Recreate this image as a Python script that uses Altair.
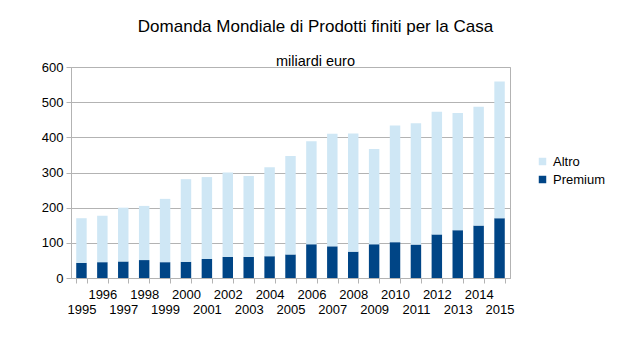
import altair as alt
import pandas as pd

years = [str(y) for y in range(1995, 2016)]
totals = [170, 177, 200, 205, 225, 281, 287, 300, 290, 315, 347, 389, 410, 411, 367, 434, 440, 473, 469, 487, 559]
premium = [43, 45, 47, 51, 45, 46, 54, 60, 60, 62, 67, 96, 90, 75, 96, 102, 95, 124, 136, 149, 170]
altro = [t - p for t, p in zip(totals, premium)]

series = ["Altro", "Premium"]
colors = ["#cfe7f5", "#004586"]

rows = []
for y, p, a in zip(years, premium, altro):
    rows.append({"Anno": y, "Serie": "Premium", "Valore": p, "ord": 0})
    rows.append({"Anno": y, "Serie": "Altro", "Valore": a, "ord": 1})
df = pd.DataFrame(rows)

FONT = "Liberation Sans"

chart = alt.Chart(df).mark_bar().encode(
    x=alt.X("Anno:O", title=None,
            scale=alt.Scale(paddingInner=0.5, paddingOuter=0.25),
            axis=alt.Axis(labelAngle=0, tickBand="extent",
                          labelExpr="toNumber(datum.value) % 2 == 0 ? [datum.label, ''] : ['', datum.label]",
                          labelLineHeight=15, labelPadding=5, tickSize=5)),
    y=alt.Y("Valore:Q", title=None, stack="zero",
            scale=alt.Scale(domain=[0, 600]),
            axis=alt.Axis(values=[0, 100, 200, 300, 400, 500, 600], tickSize=5, labelPadding=3)),
    color=alt.Color("Serie:N", scale=alt.Scale(domain=series, range=colors),
                    legend=alt.Legend(title=None, orient="none", legendX=465, legendY=88,
                                      symbolType="square", symbolSize=56, symbolStrokeWidth=0,
                                      labelFontSize=13, labelFont=FONT, labelColor="#000000",
                                      rowPadding=4)),
    order=alt.Order("ord:Q", sort="ascending"),
).properties(
    width=439, height=211,
    title=alt.TitleParams("Domanda Mondiale di Prodotti finiti per la Casa",
                          subtitle="miliardi euro", anchor="middle", dx=25,
                          fontSize=17, font=FONT, fontWeight="normal", color="#000000",
                          subtitleFontSize=14.5, subtitleFont=FONT, subtitleColor="#000000",
                          subtitlePadding=19, offset=-8),
    padding={"left": 63, "top": 59, "right": 114, "bottom": 74},
    autosize="none",
).configure_axis(
    labelFont=FONT, labelFontSize=13, labelColor="#000000",
    domainColor="#b3b3b3", tickColor="#b3b3b3", gridColor="#b3b3b3",
).configure_axisX(grid=False).configure_view(stroke="#b3b3b3")

chart.save("out.html", embed_options={"renderer": "svg", "actions": False})
